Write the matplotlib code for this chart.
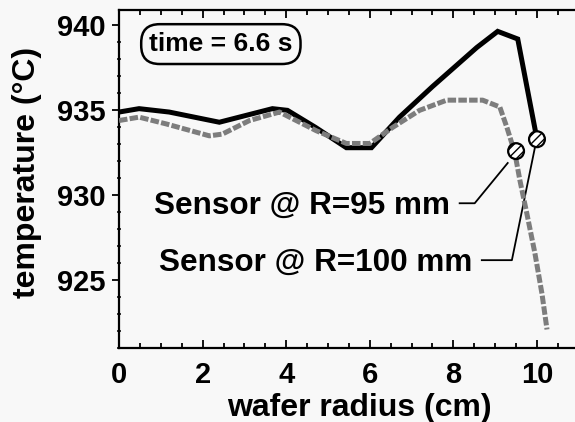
import matplotlib
matplotlib.use("Agg")
import matplotlib.pyplot as plt
from matplotlib.ticker import MultipleLocator

# ── data ─────────────────────────────────────────────────────────────────────

r_100 = [0.0, 0.48, 1.2, 2.4, 3.67, 4.03, 4.7, 5.44, 6.04, 6.71, 7.5, 8.56, 9.06, 9.54, 10.0]
t_100 = [934.9, 935.1, 934.9, 934.3, 935.1, 935.0, 934.0, 932.8, 932.8, 934.6, 936.4, 938.7, 939.65, 939.2, 933.3]

r_95 = [0.0, 0.48, 1.13, 2.16, 2.47, 3.12, 3.84, 4.72, 5.44, 6.0, 6.55, 7.19, 7.84, 8.7,
        9.11, 9.28, 9.47, 9.59, 9.76, 9.95, 10.12, 10.24]
t_95 = [934.4, 934.6, 934.2, 933.5, 933.6, 934.4, 934.9, 933.8, 933.05, 933.05, 934.0, 935.0,
        935.6, 935.6, 935.2, 934.0, 932.5, 930.9, 928.9, 926.6, 924.2, 922.1]

sensor_r = [9.5, 10.0]
sensor_t = [932.6, 933.3]
sensor_labels = ["Sensor @ R=95 mm", "Sensor @ R=100 mm"]

BG = "#f8f8f8"
plt.rcParams["font.family"] = ["Liberation Sans", "DejaVu Sans"]
plt.rcParams["font.weight"] = "bold"
plt.rcParams["axes.labelweight"] = "bold"

fig = plt.figure(figsize=(5.75, 4.22), dpi=100)
fig.patch.set_facecolor(BG)
ax = fig.add_axes([0.207, 0.175, 0.793, 0.801])
ax.set_facecolor(BG)

ax.plot(r_100, t_100, color="black", lw=3.6, solid_joinstyle="miter", zorder=2)
ax.plot(r_95, t_95, color="#7d7d7d", lw=3.6, dashes=(1.7, 0.45), zorder=3)

# leader lines from labels to sensor circles
ax.plot([8.15, 8.51, 9.30], [929.53, 929.53, 931.9], color="black", lw=1.3, zorder=2)
ax.plot([8.68, 9.40, 9.95], [926.18, 926.18, 932.8], color="black", lw=1.3, zorder=2)

ax.scatter(sensor_r, sensor_t, s=130, facecolor="white", edgecolor="black",
           linewidth=1.6, hatch="////", zorder=4)

ax.text(7.93, 929.4, sensor_labels[0], ha="right", va="center", fontsize=22.7)
ax.text(8.45, 926.05, sensor_labels[1], ha="right", va="center", fontsize=22.7)

ax.text(0.72, 938.9, "time = 6.6 s", ha="left", va="center", fontsize=19,
        bbox=dict(boxstyle="round,pad=0.3,rounding_size=0.7", facecolor=BG,
                  edgecolor="black", linewidth=1.8))

ax.set_xlim(0, 10.91)
ax.set_ylim(921.0, 940.9)

ax.xaxis.set_major_locator(MultipleLocator(2))
ax.xaxis.set_minor_locator(MultipleLocator(0.5))
ax.yaxis.set_major_locator(MultipleLocator(5))
ax.yaxis.set_minor_locator(MultipleLocator(1))

ax.tick_params(axis="x", which="both", direction="in", top=True, bottom=True, width=1.3)
ax.tick_params(axis="x", which="major", length=6, pad=9)
ax.tick_params(axis="x", which="minor", length=3.5)
ax.tick_params(axis="y", which="major", direction="out", length=5, width=1.3, pad=5)
ax.tick_params(axis="y", which="minor", direction="inout", length=3, width=1.1)
ax.tick_params(axis="both", which="major", labelsize=21)

for side in ["left", "bottom", "top"]:
    ax.spines[side].set_linewidth(1.6)
ax.spines["right"].set_visible(False)

ax.set_xlabel("wafer radius (cm)", fontsize=23, fontweight="bold")
ax.xaxis.set_label_coords(0.528, -0.133)
ax.set_ylabel("temperature (°C)", fontsize=23, fontweight="bold")
ax.yaxis.set_label_coords(-0.17, 0.52)

fig.savefig("out.png", dpi=100, facecolor=BG)
